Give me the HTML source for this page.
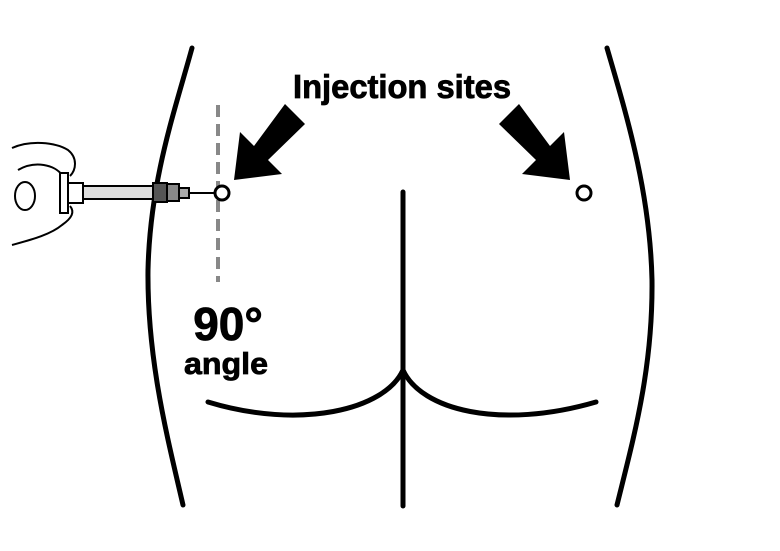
<!DOCTYPE html>
<html><head><style>body{margin:0;background:#fff}svg{display:block}</style></head><body>
<svg width="780" height="551" viewBox="0 0 780 551" xmlns="http://www.w3.org/2000/svg">
<rect width="780" height="551" fill="#fff"/>
<g fill="none" stroke="#000" stroke-width="5" stroke-linecap="round">
<path d="M192 48 C175 110 150 180 148 270 C147 360 168 440 183 505"/>
<path d="M607 48 C625 110 650 190 652 280 C653 370 633 440 617 505"/>
<path d="M403 192 L403 506"/>
<path d="M208 402 C300 430 385 410 403 370 C421 410 500 430 596 402"/>
</g>
<line x1="218" y1="105" x2="218" y2="282" stroke="#888" stroke-width="4" stroke-dasharray="12 7"/>
<circle cx="222" cy="193" r="7" fill="#fff" stroke="#000" stroke-width="3"/>
<circle cx="584" cy="193" r="7" fill="#fff" stroke="#000" stroke-width="3"/>
<polygon points="285,104 305,124 268,160 282,174 234,180 240,132 254,146" fill="#000"/>
<polygon points="519,104 499,124 536,160 522,174 570,180 564,132 550,146" fill="#000"/>
<!-- hand + syringe -->
<g stroke="#000" stroke-width="2" fill="#fff">
<path d="M12 148 C30 140 55 142 68 150 C78 158 76 170 70 176 M12 245 C30 240 50 235 62 225 C72 218 75 212 70 206" fill="none"/>
<path d="M18 170 C35 160 55 165 62 175" fill="none"/>
<ellipse cx="25" cy="196" rx="10" ry="14"/>
<rect x="60" y="173" width="8" height="40"/>
<rect x="68" y="183" width="15" height="20"/>
<rect x="83" y="186" width="70" height="13" fill="#ddd"/>
<rect x="153" y="183" width="14" height="19" fill="#555"/>
<rect x="167" y="184" width="12" height="17" fill="#888"/>
<rect x="179" y="188" width="10" height="10" fill="#aaa"/>
<line x1="189" y1="193" x2="215" y2="193"/>
</g>
<g font-family="'Liberation Sans',sans-serif" font-weight="bold" text-anchor="middle" fill="#000" stroke="#000" stroke-width="0.8">
<text x="402" y="98" font-size="33" textLength="218" lengthAdjust="spacingAndGlyphs">Injection sites</text>
<text x="228" y="340" font-size="46">90°</text>
<text x="226" y="374" font-size="31" textLength="84" lengthAdjust="spacingAndGlyphs">angle</text>
</g>
</svg>
</body></html>
